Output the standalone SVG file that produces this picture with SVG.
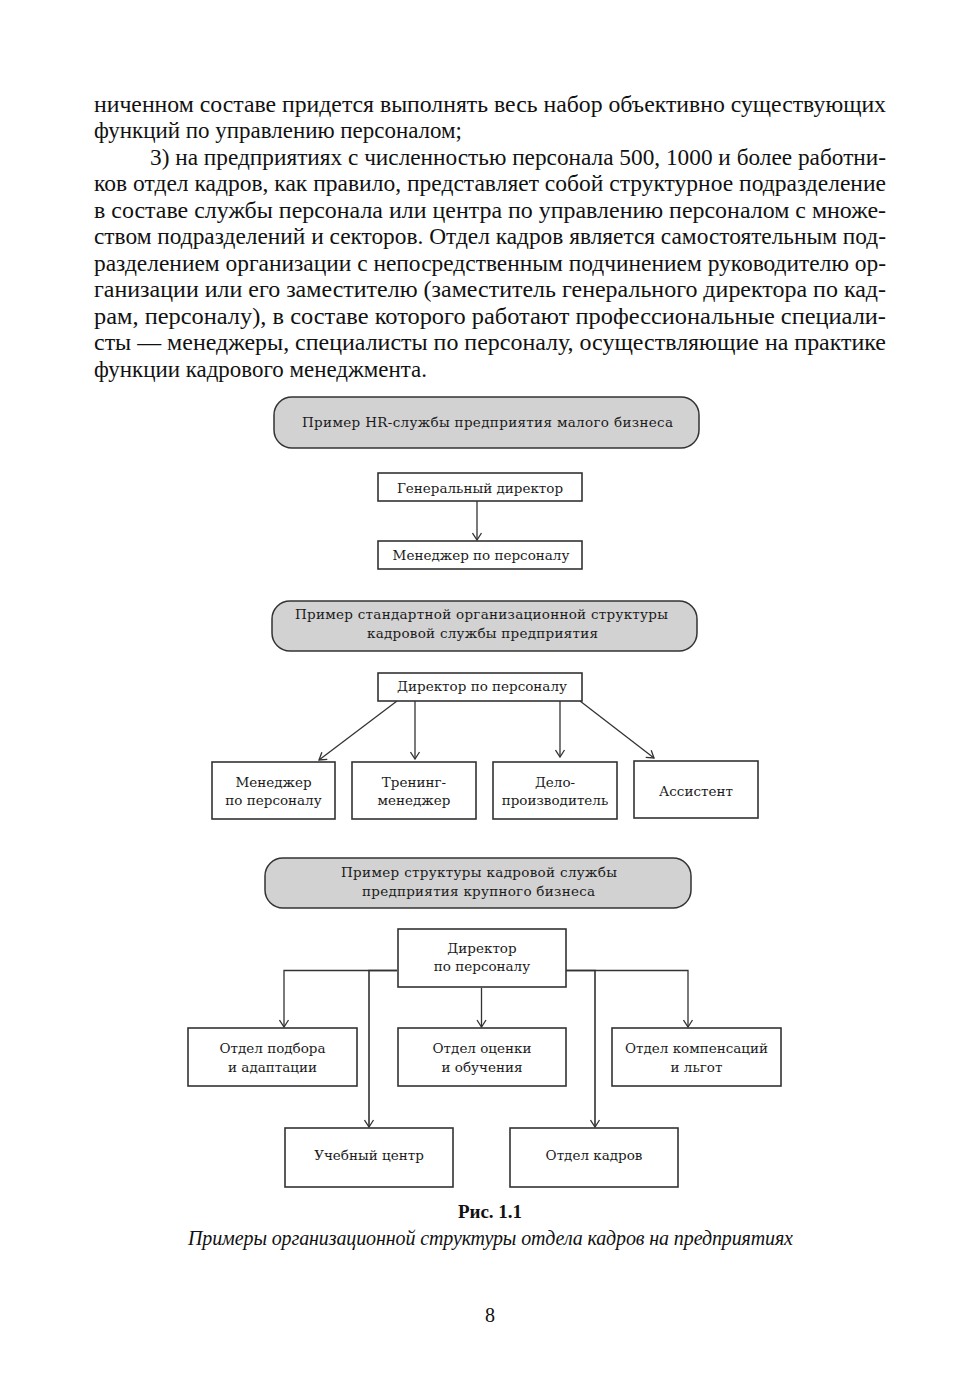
<svg xmlns="http://www.w3.org/2000/svg" width="980" height="1386" viewBox="0 0 980 1386">
<style>
.body{font-family:"Liberation Serif","Times New Roman",serif;font-size:23.5px;fill:#111}
.d{font-family:"DejaVu Serif","Liberation Serif",serif;font-size:13.5px;fill:#1a1a1a;text-anchor:middle}
.hdr{fill:#d2d2d2;stroke:#333;stroke-width:1.5}
.box{fill:#fff;stroke:#333;stroke-width:1.6}
.con{fill:none;stroke:#333;stroke-width:1.3}
.cap{font-family:"Liberation Serif","Times New Roman",serif;fill:#111;text-anchor:middle}
</style>
<defs>
<marker id="arr" markerUnits="userSpaceOnUse" markerWidth="9" markerHeight="11" viewBox="0 0 9 11" refX="8" refY="5.5" orient="auto">
<path d="M1,1 L8,5.5 L1,10" fill="none" stroke="#333" stroke-width="1.3"/>
</marker>
</defs>
<rect width="980" height="1386" fill="#fff"/>

<g id="body-text" class="body">
<text x="94" y="112" textLength="792" lengthAdjust="spacingAndGlyphs">ниченном составе придется выполнять весь набор объективно существующих</text>
<text x="94" y="138" textLength="368" lengthAdjust="spacingAndGlyphs">функций по управлению персоналом;</text>
<text x="150" y="165" textLength="736" lengthAdjust="spacingAndGlyphs">3) на предприятиях с численностью персонала 500, 1000 и более работни-</text>
<text x="94" y="191" textLength="792" lengthAdjust="spacingAndGlyphs">ков отдел кадров, как правило, представляет собой структурное подразделение</text>
<text x="94" y="218" textLength="792" lengthAdjust="spacingAndGlyphs">в составе службы персонала или центра по управлению персоналом с множе-</text>
<text x="94" y="244" textLength="792" lengthAdjust="spacingAndGlyphs">ством подразделений и секторов. Отдел кадров является самостоятельным под-</text>
<text x="94" y="271" textLength="792" lengthAdjust="spacingAndGlyphs">разделением организации с непосредственным подчинением руководителю ор-</text>
<text x="94" y="297" textLength="792" lengthAdjust="spacingAndGlyphs">ганизации или его заместителю (заместитель генерального директора по кад-</text>
<text x="94" y="324" textLength="792" lengthAdjust="spacingAndGlyphs">рам, персоналу), в составе которого работают профессиональные специали-</text>
<text x="94" y="350" textLength="792" lengthAdjust="spacingAndGlyphs">сты — менеджеры, специалисты по персоналу, осуществляющие на практике</text>
<text x="94" y="377" textLength="333" lengthAdjust="spacingAndGlyphs">функции кадрового менеджмента.</text>
</g>

<g id="connectors">
<path class="con" d="M477,501 V540" marker-end="url(#arr)"/>
<path class="con" d="M397,701 L319,760" marker-end="url(#arr)"/>
<path class="con" d="M415,701 V759" marker-end="url(#arr)"/>
<path class="con" d="M560,701 V757" marker-end="url(#arr)"/>
<path class="con" d="M580,701 L654,758" marker-end="url(#arr)"/>
<path class="con" d="M397,970.5 H284 V1027" marker-end="url(#arr)"/>
<path class="con" d="M397,970.5 H369 V1127" marker-end="url(#arr)" style="stroke-width:1.6"/>
<path class="con" d="M481.5,988 V1027" marker-end="url(#arr)"/>
<path class="con" d="M566,970.5 H688 V1027" marker-end="url(#arr)"/>
<path class="con" d="M566,970.5 H595 V1127" marker-end="url(#arr)" style="stroke-width:1.6"/>
</g>

<g id="hdr1">
<rect class="hdr" x="274" y="397" width="425" height="51" rx="18"/>
<text class="d" x="487.5" y="427" textLength="371">Пример HR-службы предприятия малого бизнеса</text>
</g>
<g id="gen-dir">
<rect class="box" x="378" y="473" width="204" height="28"/>
<text class="d" x="480" y="493">Генеральный директор</text>
</g>
<g id="hr-mgr1">
<rect class="box" x="378" y="541" width="204" height="28"/>
<text class="d" x="481" y="560">Менеджер по персоналу</text>
</g>

<g id="hdr2">
<rect class="hdr" x="272" y="601" width="425" height="50" rx="18"/>
<text class="d" x="481.5" y="619" textLength="373">Пример стандартной организационной структуры</text>
<text class="d" x="482.5" y="638" textLength="231">кадровой службы предприятия</text>
</g>
<g id="hr-dir2">
<rect class="box" x="378" y="673" width="204" height="28"/>
<text class="d" x="482" y="691">Директор по персоналу</text>
</g>
<g id="mgr2">
<rect class="box" x="212" y="762" width="123" height="57"/>
<text class="d" x="273.5" y="787">Менеджер</text>
<text class="d" x="273.5" y="805">по персоналу</text>
</g>
<g id="training">
<rect class="box" x="352" y="762" width="124" height="57"/>
<text class="d" x="414" y="787">Тренинг-</text>
<text class="d" x="414" y="805">менеджер</text>
</g>
<g id="clerk">
<rect class="box" x="493" y="762" width="124" height="57"/>
<text class="d" x="555" y="787">Дело-</text>
<text class="d" x="555" y="805">производитель</text>
</g>
<g id="assistant">
<rect class="box" x="634" y="761" width="124" height="57"/>
<text class="d" x="696" y="796">Ассистент</text>
</g>

<g id="hdr3">
<rect class="hdr" x="265" y="858" width="426" height="50" rx="18"/>
<text class="d" x="479" y="877" textLength="276">Пример структуры кадровой службы</text>
<text class="d" x="478.5" y="896" textLength="233">предприятия крупного бизнеса</text>
</g>
<g id="hr-dir3">
<rect class="box" x="398" y="929" width="168" height="58"/>
<text class="d" x="482" y="953">Директор</text>
<text class="d" x="482" y="971">по персоналу</text>
</g>
<g id="recruit">
<rect class="box" x="188" y="1028" width="169" height="58"/>
<text class="d" x="272.5" y="1053">Отдел подбора</text>
<text class="d" x="272.5" y="1072">и адаптации</text>
</g>
<g id="assess">
<rect class="box" x="398" y="1028" width="168" height="58"/>
<text class="d" x="482" y="1053">Отдел оценки</text>
<text class="d" x="482" y="1072">и обучения</text>
</g>
<g id="comp">
<rect class="box" x="612" y="1028" width="169" height="58"/>
<text class="d" x="696.5" y="1053">Отдел компенсаций</text>
<text class="d" x="696.5" y="1072">и льгот</text>
</g>
<g id="training-center">
<rect class="box" x="285" y="1128" width="168" height="59"/>
<text class="d" x="369" y="1160">Учебный центр</text>
</g>
<g id="personnel">
<rect class="box" x="510" y="1128" width="168" height="59"/>
<text class="d" x="594" y="1160">Отдел кадров</text>
</g>

<g id="caption">
<text class="cap" x="490" y="1218" font-size="19" font-weight="bold">Рис. 1.1</text>
<text class="cap" x="490.5" y="1245" font-size="20" font-style="italic" textLength="605" lengthAdjust="spacing">Примеры организационной структуры отдела кадров на предприятиях</text>
<text class="cap" x="490" y="1322" font-size="20">8</text>
</g>
</svg>
